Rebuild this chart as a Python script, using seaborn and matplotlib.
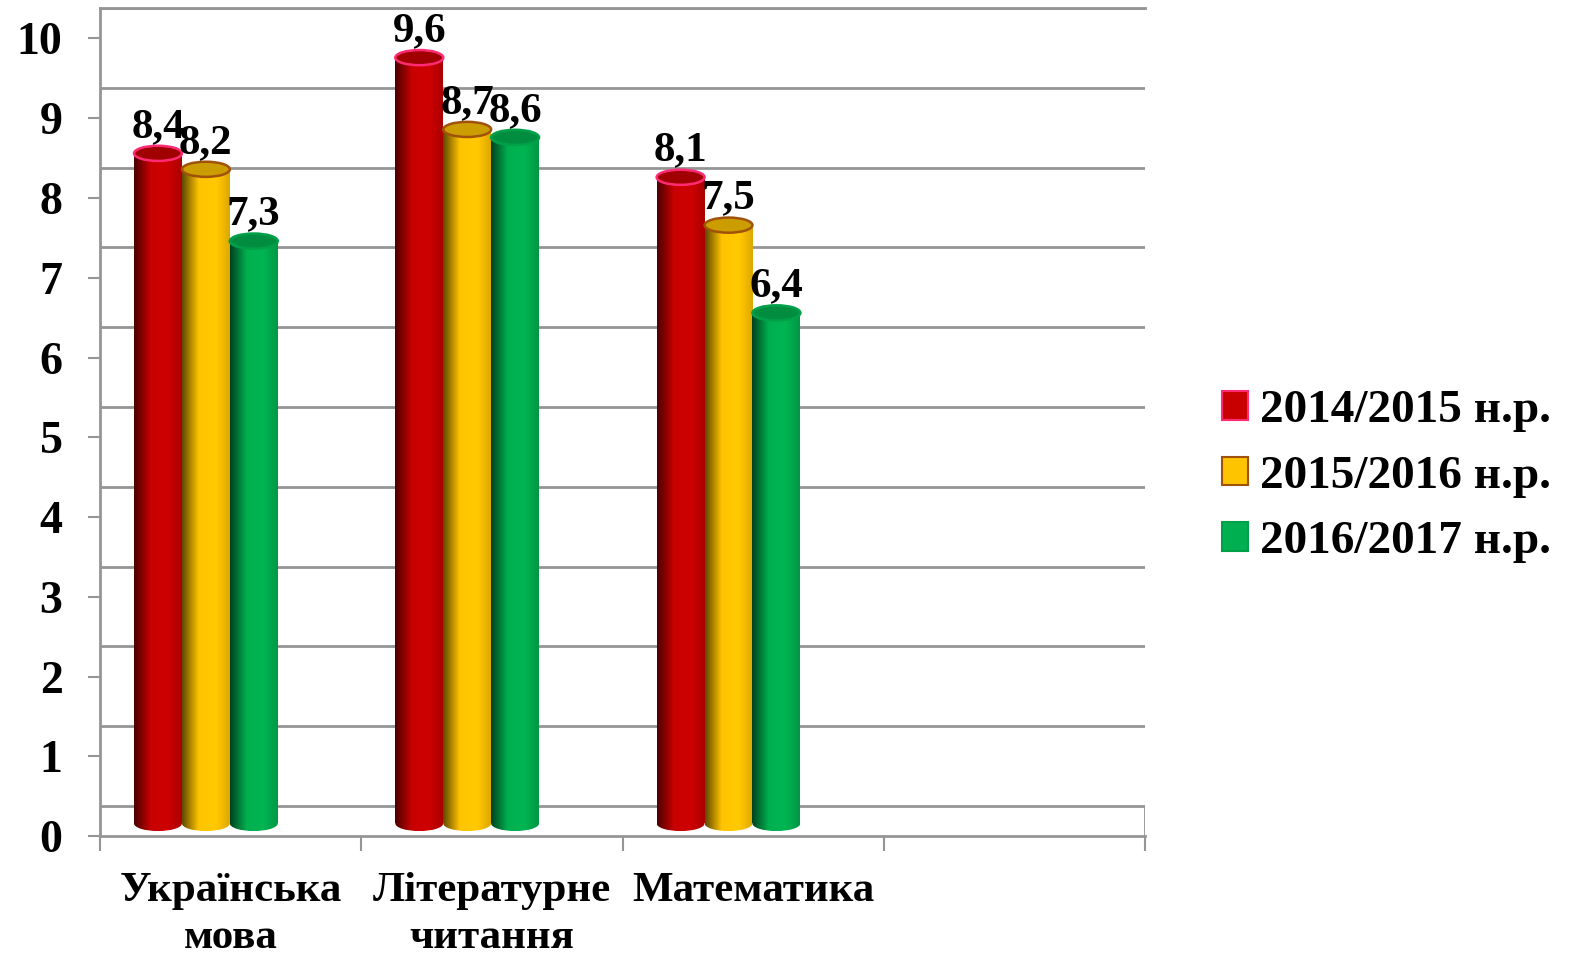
import numpy as np
import pandas as pd
import seaborn as sns
import matplotlib.pyplot as plt
from matplotlib.patches import Ellipse, Patch
from matplotlib.colors import to_rgb

# дані
subjects = ["Українська\nмова", "Літературне\nчитання", "Математика"]
years = ["2014/2015 н.р.", "2015/2016 н.р.", "2016/2017 н.р."]
scores_2014 = [8.4, 9.6, 8.1]
scores_2015 = [8.2, 8.7, 7.5]
scores_2016 = [7.3, 8.6, 6.4]
y_ticks = list(range(0, 11))

colors = ["#C80000", "#FFC400", "#00B050"]
edges = ["#FF2A74", "#A0520A", "#00A048"]
grid_col = "#959595"

df = pd.DataFrame({
    "subject": subjects * 3,
    "year": np.repeat(years, 3),
    "score": scores_2014 + scores_2015 + scores_2016,
})

sns.set_theme(style="white")
plt.rcParams["font.family"] = ["Liberation Serif", "DejaVu Serif"]
plt.rcParams["font.weight"] = "bold"
plt.rcParams["text.color"] = "black"

fig = plt.figure(figsize=(15.73, 9.59), dpi=100)
ax = fig.add_axes([0.0636, 0.128, 0.6645, 0.8635])

depth = 0.38   # глибина "3d" підлоги в одиницях y
lift = 0.16    # циліндри стоять трохи вище переднього краю
shift = 0.095  # і зсунуті вліво (перспектива)
ell_h = 0.19   # висота еліпса кришки

sns.barplot(data=df, x="subject", y="score", hue="year", order=subjects,
            palette=colors, width=0.55, gap=0, legend=False, ax=ax,
            errorbar=None, zorder=2)


def shade_img(base, n=64):
    t = np.linspace(0, 1, n)
    k = np.interp(t, [0, 0.35, 0.7, 1], [0.38, 1.0, 1.03, 0.86])
    return np.clip(np.outer(k, to_rgb(base)), 0, 1)[None, :, :]


for i, cont in enumerate(ax.containers):
    base, edge = colors[i], edges[i]
    img = shade_img(base)
    for bar, val in zip(cont, cont.datavalues):
        bar.set_x(bar.get_x() - shift)
        bar.set_y(bar.get_y() + lift)
        bar.set_facecolor("none")
        bar.set_linewidth(0)
        x0, w = bar.get_x(), bar.get_width()
        y0, h = bar.get_y(), bar.get_height()
        # тіло циліндра
        im = ax.imshow(img, extent=(x0, x0 + w, y0, y0 + h), aspect="auto",
                       interpolation="bilinear", zorder=2)
        im.set_clip_path(bar)
        # заокруглений низ
        bot = Ellipse((x0 + w / 2, y0), w, ell_h, facecolor="none", linewidth=0)
        ax.add_patch(bot)
        im2 = ax.imshow(img, extent=(x0, x0 + w, y0 - ell_h / 2, y0), aspect="auto",
                        interpolation="bilinear", zorder=2)
        im2.set_clip_path(bot)
        # кришка
        top_col = np.array(to_rgb(base)) * 0.8
        ax.add_patch(Ellipse((x0 + w / 2, y0 + h), w, ell_h, facecolor=top_col,
                             edgecolor=edge, linewidth=1.8, zorder=3))
        ax.text(x0 + w / 2, y0 + h + ell_h / 2, f"{val:.1f}".replace(".", ","),
                ha="center", va="bottom", fontsize=31, fontweight="bold",
                color="black", zorder=5)

ax.set_xlim(-0.5, 3.5)
ax.set_ylim(0, 10 + depth)

# задня стінка: лінії сітки зсунуті на глибину
for t in y_ticks:
    ax.axhline(t + depth, color=grid_col, linewidth=2, zorder=0)
ax.vlines(3.5, 0, depth, color=grid_col, linewidth=2, zorder=0)

ax.set_yticks(y_ticks)
ax.set_yticklabels([str(t) for t in y_ticks], fontsize=33, fontweight="bold")
ax.set_xticks(range(len(subjects)))
ax.set_xticklabels(subjects, fontsize=31, fontweight="bold", linespacing=1.3)
ax.set_xticks(np.arange(-0.5, 4, 1), minor=True)
ax.tick_params(axis="y", which="major", left=True, length=9, width=1.5,
               color=grid_col, pad=18, labelcolor="black")
ax.tick_params(axis="x", which="major", bottom=True, length=0, pad=26,
               labelcolor="black")
ax.tick_params(axis="x", which="minor", bottom=True, length=11, width=1.5,
               color=grid_col)
ax.set_xlabel("")
ax.set_ylabel("")

for side in ["left", "top", "bottom"]:
    ax.spines[side].set_color(grid_col)
    ax.spines[side].set_linewidth(2)
ax.spines["right"].set_visible(False)

handles = [Patch(facecolor=c, edgecolor=e, linewidth=1.5) for c, e in zip(colors, edges)]
fig.legend(handles, years, loc="center left", bbox_to_anchor=(0.777, 0.503),
           frameon=False, handlelength=0.55, handleheight=0.55,
           handletextpad=0.25, labelspacing=0.5, borderpad=0, borderaxespad=0,
           prop={"weight": "bold", "size": 34})

fig.savefig("out.png", dpi=100)
